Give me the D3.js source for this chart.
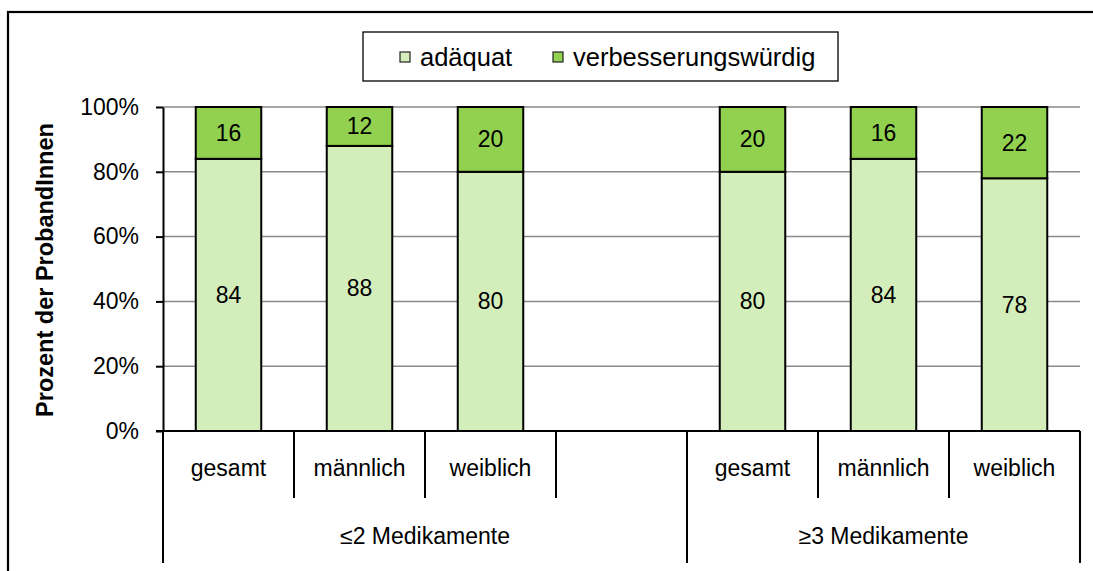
<!DOCTYPE html>
<html>
<head>
<meta charset="utf-8">
<script src="https://cdn.jsdelivr.net/npm/d3@7"></script>
<style>
  body { margin: 0; background: #fff; }
  text { font-family: "Liberation Sans", Arial, sans-serif; fill: #000; }
</style>
</head>
<body>
<svg width="1093" height="571"></svg>
<script>
// data
const categories = ["gesamt", "männlich", "weiblich", "", "gesamt", "männlich", "weiblich"];
const groupOf = [0, 0, 0, 0, 1, 1, 1];
const groups = ["≤2 Medikamente", "≥3 Medikamente"];
const adaequat = [84, 88, 80, null, 80, 84, 78];
const verbesserungswuerdig = [16, 12, 20, null, 20, 16, 22];
const seriesNames = ["adäquat", "verbesserungswürdig"];
const yTicks = [0, 20, 40, 60, 80, 100];

window.onload = () => {
  const svg = d3.select("svg");
  const colors = ["#d4eebb", "#92d050"];

  const left = 163, right = 1080, top = 107, bottom = 431;

  // outer frame
  svg.append("rect")
    .attr("x", 8).attr("y", 12)
    .attr("width", 1200).attr("height", 700)
    .attr("fill", "none").attr("stroke", "#000").attr("stroke-width", 2.2);

  const idx = d3.range(categories.length);
  const slot = d3.scaleBand().domain(idx).range([left, right]);
  const xBar = d3.scaleBand().domain(idx).range([left, right])
    .paddingInner(0.5).paddingOuter(0.25);
  const y = d3.scaleLinear().domain([0, 100]).range([bottom, top]);

  // gridlines
  svg.append("g").selectAll("line")
    .data(yTicks.filter(d => d > 0))
    .join("line")
    .attr("x1", left).attr("x2", right)
    .attr("y1", d => y(d)).attr("y2", d => y(d))
    .attr("stroke", "#8a8a8a").attr("stroke-width", 1.5);

  // y axis
  const yAxisG = svg.append("g")
    .attr("transform", `translate(${left},0)`)
    .call(d3.axisLeft(y).tickValues(yTicks).tickSize(7).tickSizeOuter(0)
      .tickFormat(d => d + "%"));
  yAxisG.select(".domain").attr("stroke", "#000").attr("stroke-width", 2);
  yAxisG.selectAll(".tick line").attr("stroke", "#000").attr("stroke-width", 2);
  yAxisG.selectAll(".tick text")
    .attr("x", -24)
    .style("font-size", "23px")
    .style("font-family", "'Liberation Sans', Arial, sans-serif")
    .attr("fill", "#000");

  svg.append("text")
    .attr("transform", `translate(53,${(top + bottom) / 2 + 1}) rotate(-90)`)
    .attr("text-anchor", "middle")
    .style("font-size", "23.5px")
    .style("font-weight", "bold")
    .text("Prozent der ProbandInnen");

  // stacked bars
  const rows = idx.map(i => ({ i, a: adaequat[i], v: verbesserungswuerdig[i] }));
  const stack = d3.stack().keys(["a", "v"]).value((d, k) => d[k] || 0)(rows);

  stack.forEach((layer, li) => {
    const g = svg.append("g");
    const valid = layer.filter(d => d.data.a != null);
    g.selectAll("rect")
      .data(valid)
      .join("rect")
      .attr("x", d => xBar(d.data.i))
      .attr("width", xBar.bandwidth())
      .attr("y", d => y(d[1]))
      .attr("height", d => y(d[0]) - y(d[1]))
      .attr("fill", colors[li])
      .attr("stroke", "#000").attr("stroke-width", 2);
    g.selectAll("text")
      .data(valid)
      .join("text")
      .attr("x", d => xBar(d.data.i) + xBar.bandwidth() / 2)
      .attr("y", d => (y(d[0]) + y(d[1])) / 2)
      .attr("dy", "0.35em")
      .attr("text-anchor", "middle")
      .style("font-size", "23px")
      .text(d => d[1] - d[0]);
  });

  // x axis with two label rows
  const xg = svg.append("g");
  xg.append("line")
    .attr("x1", left - 7).attr("x2", right)
    .attr("y1", bottom).attr("y2", bottom)
    .attr("stroke", "#000").attr("stroke-width", 2);

  const bounds = d3.range(categories.length + 1);
  const isGroupEdge = b => b === 0 || b === categories.length || groupOf[b] !== groupOf[b - 1];
  xg.selectAll("line.sep")
    .data(bounds)
    .join("line")
    .attr("class", "sep")
    .attr("x1", b => left + b * slot.step())
    .attr("x2", b => left + b * slot.step())
    .attr("y1", bottom)
    .attr("y2", b => isGroupEdge(b) ? 563 : 498)
    .attr("stroke", "#000").attr("stroke-width", 2);

  xg.selectAll("text.cat")
    .data(idx)
    .join("text")
    .attr("class", "cat")
    .attr("x", i => slot(i) + slot.bandwidth() / 2)
    .attr("y", 468)
    .attr("dy", "0.35em")
    .attr("text-anchor", "middle")
    .style("font-size", "23px")
    .text(i => categories[i]);

  xg.selectAll("text.grp")
    .data(groups)
    .join("text")
    .attr("class", "grp")
    .attr("x", (d, gi) => {
      const members = idx.filter(i => groupOf[i] === gi);
      return (slot(members[0]) + slot(members[members.length - 1]) + slot.bandwidth()) / 2;
    })
    .attr("y", 536)
    .attr("dy", "0.35em")
    .attr("text-anchor", "middle")
    .style("font-size", "23px")
    .text(d => d);

  // legend
  const lg = svg.append("g");
  lg.append("rect")
    .attr("x", 363).attr("y", 32).attr("width", 475).attr("height", 49)
    .attr("fill", "#fff").attr("stroke", "#000").attr("stroke-width", 1.3);
  const legX = [400, 553];
  seriesNames.forEach((name, k) => {
    lg.append("rect")
      .attr("x", legX[k]).attr("y", 52)
      .attr("width", 10).attr("height", 10)
      .attr("fill", colors[k]).attr("stroke", "#222").attr("stroke-width", 1.2);
    lg.append("text")
      .attr("x", legX[k] + 20).attr("y", 57)
      .attr("dy", "0.35em")
      .style("font-size", "25.5px")
      .text(name);
  });
};
</script>
</body>
</html>
